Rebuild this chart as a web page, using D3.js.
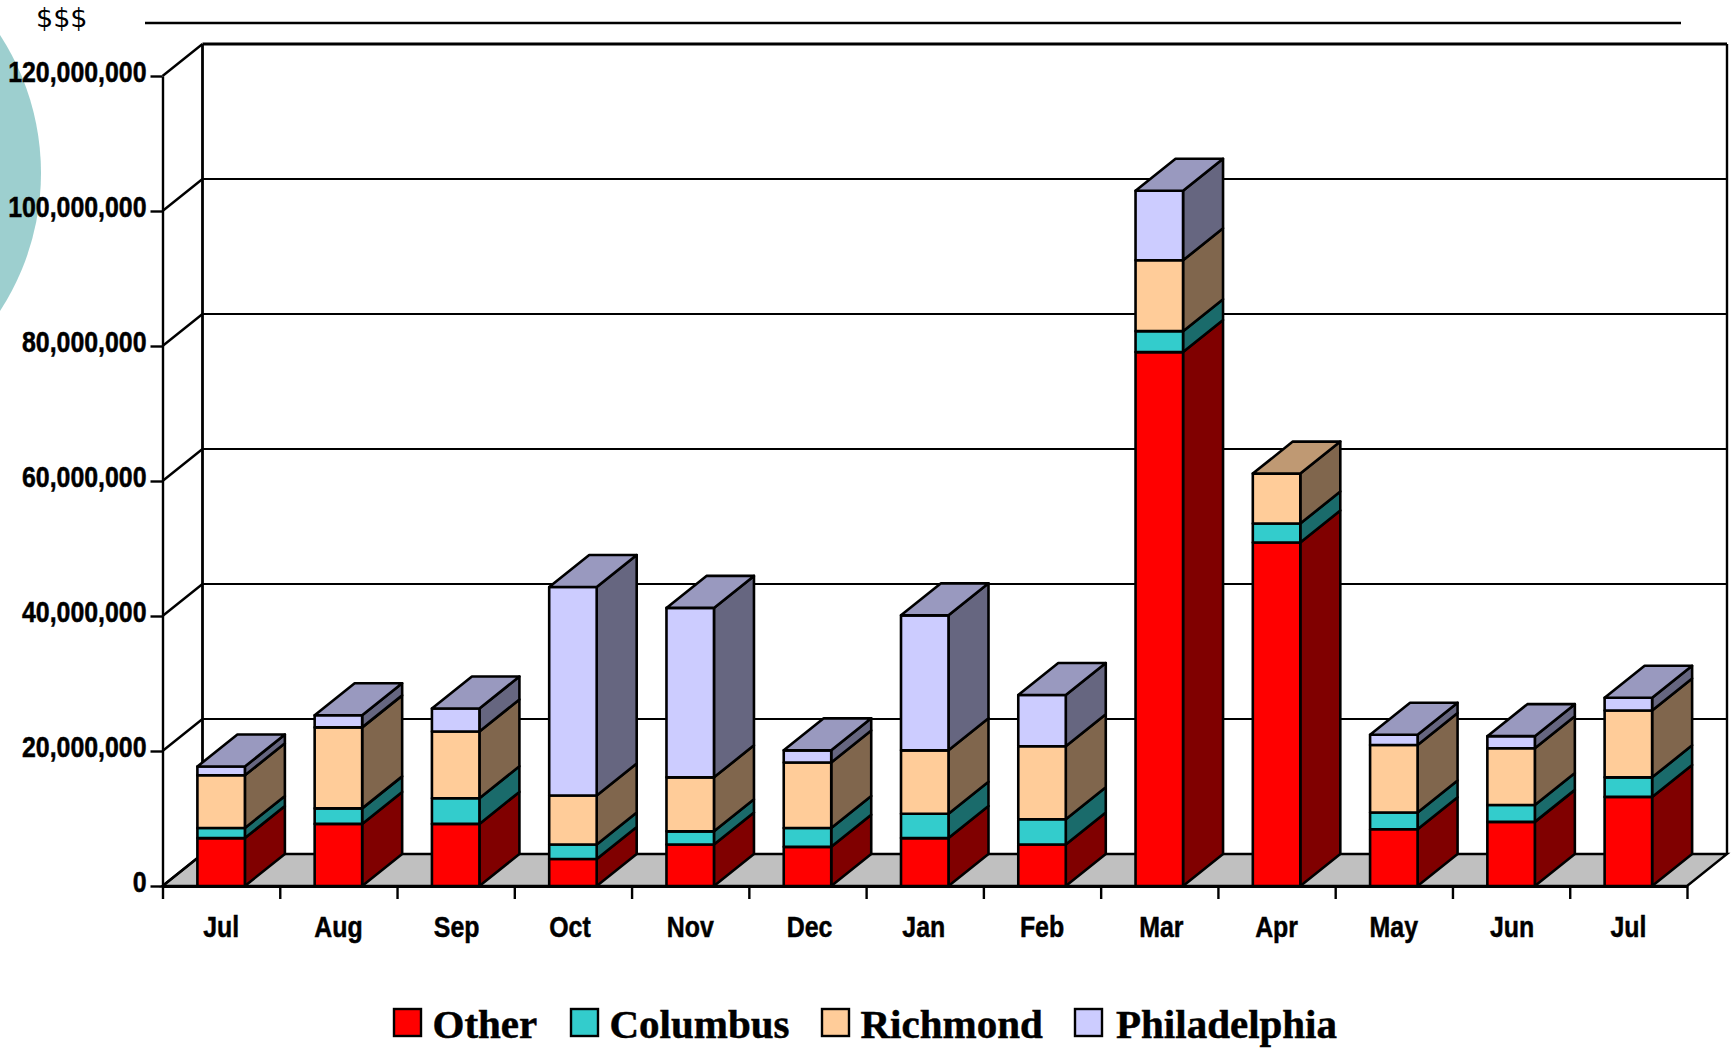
<!DOCTYPE html>
<html>
<head>
<meta charset="utf-8">
<script src="https://cdn.jsdelivr.net/npm/d3@7"></script>
<style>
  html, body { margin: 0; padding: 0; background: #fff; }
  svg { display: block; }
  .tick-label { font-family: "Liberation Sans", Arial, sans-serif; font-weight: bold; font-size: 30px; fill: #000; stroke: #000; stroke-width: 0.5px; }
  .legend-label { font-family: "Liberation Serif", serif; font-weight: bold; font-size: 41px; fill: #000; stroke: #000; stroke-width: 0.5px; }
  .unit-label { font-family: "DejaVu Sans", sans-serif; font-size: 27px; fill: #000; }
</style>
</head>
<body>
<div id="chart"></div>
<script>
var months = ['Jul', 'Aug', 'Sep', 'Oct', 'Nov', 'Dec', 'Jan', 'Feb', 'Mar', 'Apr', 'May', 'Jun', 'Jul'];
var seriesNames = ['Other', 'Columbus', 'Richmond', 'Philadelphia'];
var other = [7100000, 9200000, 9200000, 4000000, 6150000, 5800000, 7100000, 6150000, 79100000, 50900000, 8400000, 9500000, 13200000];
var columbus = [1500000, 2300000, 3800000, 2150000, 1950000, 2800000, 3600000, 3750000, 3100000, 2800000, 2500000, 2500000, 2900000];
var richmond = [7800000, 12000000, 9900000, 7250000, 8000000, 9700000, 9400000, 10800000, 10500000, 7400000, 10000000, 8400000, 9900000];
var philadelphia = [1300000, 1800000, 3400000, 30900000, 25100000, 1800000, 20000000, 7600000, 10300000, 0, 1500000, 1800000, 1900000];
var yTicks = [0, 20000000, 40000000, 60000000, 80000000, 100000000, 120000000];

var frontColors = ['#ff0000', '#33cccc', '#ffcc99', '#ccccff'];
var sideColors = ['#800000', '#1a6b6b', '#80664d', '#666680'];
var topColors = ['#bf0000', '#269999', '#bf9973', '#9999bf'];

var width = 1735, height = 1048;
var plotLeft = 162.5, plotRight = 1687, plotBottom = 886, plotTop = 76;
var depthX = 40, depthY = -32;
var textSquash = 0.83;

var svg = d3.select('#chart').append('svg')
  .attr('width', width)
  .attr('height', height);

var x = d3.scaleBand()
  .domain(d3.range(months.length))
  .range([plotLeft, plotRight])
  .paddingInner(0.595)
  .paddingOuter(0.2975);

var xEdges = d3.scaleLinear()
  .domain([0, months.length])
  .range([plotLeft, plotRight]);

var y = d3.scaleLinear()
  .domain([0, 120000000])
  .range([plotBottom, plotTop]);

var rows = months.map(function(m, i) {
  return { Other: other[i], Columbus: columbus[i], Richmond: richmond[i], Philadelphia: philadelphia[i] };
});
var stacked = d3.stack().keys(seriesNames)(rows);

function pts(list) {
  return list.map(function(p) { return p.join(','); }).join(' ');
}

// decoration behind the chart
svg.append('circle')
  .attr('cx', -212)
  .attr('cy', 173)
  .attr('r', 253)
  .attr('fill', '#9dcfcf');

svg.append('text')
  .attr('class', 'unit-label')
  .attr('x', 36)
  .attr('y', 27)
  .text('$$$');

svg.append('line')
  .attr('x1', 145).attr('x2', 1681)
  .attr('y1', 23).attr('y2', 23)
  .attr('stroke', '#000')
  .attr('stroke-width', 2.4);

// floor
svg.append('polygon')
  .attr('points', pts([
    [plotLeft, plotBottom], [plotLeft + depthX, plotBottom + depthY],
    [plotRight + depthX, plotBottom + depthY], [plotRight, plotBottom]
  ]))
  .attr('fill', '#c0c0c0')
  .attr('stroke', '#000')
  .attr('stroke-width', 2.4);

// back wall grid and the slanted lines on the side wall
var grid = svg.append('g');
yTicks.forEach(function(t) {
  grid.append('line')
    .attr('x1', plotLeft).attr('y1', y(t))
    .attr('x2', plotLeft + depthX).attr('y2', y(t) + depthY)
    .attr('stroke', '#000').attr('stroke-width', 2.4);
  grid.append('line')
    .attr('x1', plotLeft + depthX).attr('y1', y(t) + depthY)
    .attr('x2', plotRight + depthX).attr('y2', y(t) + depthY)
    .attr('stroke', '#000').attr('stroke-width', t === 120000000 ? 3.2 : 2);
});
grid.append('line')
  .attr('x1', plotLeft + depthX).attr('y1', plotTop + depthY)
  .attr('x2', plotLeft + depthX).attr('y2', plotBottom + depthY)
  .attr('stroke', '#000').attr('stroke-width', 2.8);
grid.append('line')
  .attr('x1', plotRight + depthX).attr('y1', plotTop + depthY)
  .attr('x2', plotRight + depthX).attr('y2', plotBottom + depthY)
  .attr('stroke', '#000').attr('stroke-width', 2.4);

// bars
var bars = svg.append('g').attr('stroke', '#000').attr('stroke-width', 2.6).attr('stroke-linejoin', 'round');
months.forEach(function(m, i) {
  var bar = bars.append('g');
  var x0 = x(i), x1 = x(i) + x.bandwidth();
  var topIndex = 0;
  stacked.forEach(function(layer, s) {
    var y0 = y(layer[i][0]), y1 = y(layer[i][1]);
    if (layer[i][1] === layer[i][0]) { return; }
    topIndex = s;
    bar.append('polygon')
      .attr('points', pts([[x1, y0], [x1 + depthX, y0 + depthY], [x1 + depthX, y1 + depthY], [x1, y1]]))
      .attr('fill', sideColors[s]);
    bar.append('polygon')
      .attr('points', pts([[x0, y0], [x1, y0], [x1, y1], [x0, y1]]))
      .attr('fill', frontColors[s]);
  });
  var yTop = y(stacked[topIndex][i][1]);
  bar.append('polygon')
    .attr('points', pts([[x0, yTop], [x0 + depthX, yTop + depthY], [x1 + depthX, yTop + depthY], [x1, yTop]]))
    .attr('fill', topColors[topIndex]);
});

// axes
var yAxis = svg.append('g')
  .attr('transform', 'translate(' + plotLeft + ',0)')
  .call(d3.axisLeft(y).tickValues(yTicks).tickSize(12).tickSizeOuter(0).tickFormat(d3.format(',')));
yAxis.selectAll('path').attr('stroke-width', 2.4);
yAxis.selectAll('line').attr('stroke-width', 2.4);
yAxis.selectAll('text')
  .attr('class', 'tick-label')
  .attr('x', -16 / textSquash)
  .attr('dy', '0.32em')
  .attr('transform', 'translate(0,-4.3) scale(' + textSquash + ',1)');

var xTicks = svg.append('g')
  .attr('transform', 'translate(0,' + plotBottom + ')')
  .call(d3.axisBottom(xEdges).tickValues(d3.range(months.length + 1)).tickSize(13).tickSizeOuter(0).tickFormat(''));
xTicks.selectAll('path').attr('stroke-width', 2.8);
xTicks.selectAll('line').attr('stroke-width', 2.4);

// the month labels sit a little off their band centres in the original
var labelShift = [0, 0, 1, -3, 0, 2, -1, 0, 2, 0, 0, 1, 0];
var xLabels = svg.append('g')
  .attr('transform', 'translate(0,' + plotBottom + ')')
  .call(d3.axisBottom(x).tickSize(0).tickFormat(function(d) { return months[d]; }));
xLabels.select('.domain').remove();
xLabels.selectAll('text')
  .attr('class', 'tick-label')
  .attr('y', 0)
  .attr('dy', 0)
  .attr('transform', function(d) { return 'translate(' + labelShift[d] + ',51) scale(' + textSquash + ',1)'; });

// legend
var legendSquares = [394, 571, 822, 1075];
var legendText = [432.5, 609.5, 860.5, 1116];
var legend = svg.append('g');
seriesNames.forEach(function(name, s) {
  legend.append('rect')
    .attr('x', legendSquares[s])
    .attr('y', 1009)
    .attr('width', 27)
    .attr('height', 27)
    .attr('fill', frontColors[s])
    .attr('stroke', '#000')
    .attr('stroke-width', 2.4);
  legend.append('text')
    .attr('class', 'legend-label')
    .attr('x', legendText[s])
    .attr('y', 1038)
    .text(name);
});
</script>
</body>
</html>
